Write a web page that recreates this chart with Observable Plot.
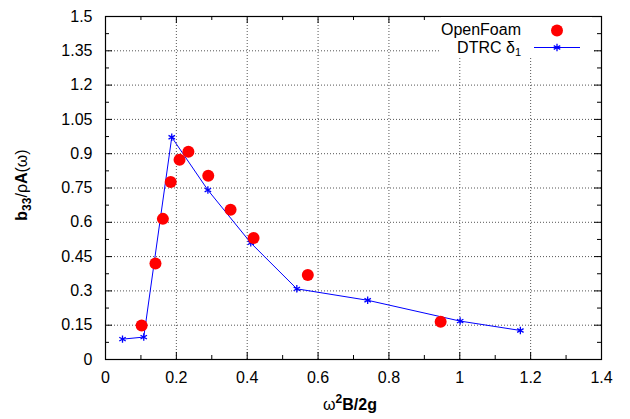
<!DOCTYPE html>
<html><head><meta charset="utf-8">
<script src="https://cdn.jsdelivr.net/npm/d3@7"></script>
<script src="https://cdn.jsdelivr.net/npm/@observablehq/plot@0.6"></script>
<style>
body{margin:0;background:#fff;font-family:"Liberation Sans",Arial,sans-serif}
#wrap{width:630px;height:419px}
</style></head><body><div id="wrap"></div>
<script>
// Data
const openfoamX = [0.102,0.141,0.162,0.184,0.209,0.234,0.290,0.353,0.418,0.571,0.946];
const openfoamY = [0.149,0.420,0.615,0.776,0.874,0.909,0.804,0.655,0.531,0.370,0.165];
const dtrcX = [0.048,0.108,0.187,0.289,0.410,0.540,0.740,1.001,1.171];
const dtrcY = [0.089,0.098,0.972,0.741,0.510,0.309,0.259,0.168,0.127];
const xTicks = [0,0.2,0.4,0.6,0.8,1,1.2,1.4];
const xTickLabels = ["0","0.2","0.4","0.6","0.8","1","1.2","1.4"];
const xMinor = [0.1,0.3,0.5,0.7,0.9,1.1,1.3];
const yTicks = [0,0.15,0.3,0.45,0.6,0.75,0.9,1.05,1.2,1.35,1.5];
const yTickLabels = ["0","0.15","0.3","0.45","0.6","0.75","0.9","1.05","1.2","1.35","1.5"];
const yMinor = [0.075,0.225,0.375,0.525,0.675,0.825,0.975,1.125,1.275,1.425];
const seriesNames = ["OpenFoam","DTRC δ","1"];

const openfoam = openfoamX.map((x,i)=>({x, y: openfoamY[i]}));
const dtrc = dtrcX.map((x,i)=>({x, y: dtrcY[i]}));
const xGrid = xTicks.slice(1,-1), yGrid = yTicks.slice(1,-1);

const W=630,H=419,mL=105,mR=29,mT=16,mB=60;
const iw=W-mL-mR, ih=H-mT-mB;
const major=7, minor=4;
const gridStyle = {stroke:"#555", strokeDasharray:"1,2", strokeWidth:1};

const plot = Plot.plot({
  width:W, height:H, marginLeft:mL, marginRight:mR, marginTop:mT, marginBottom:mB,
  x:{domain:[0,1.4]}, y:{domain:[0,1.5]},
  style:{fontFamily:"'Liberation Sans', Arial, sans-serif", fontSize:"16px", color:"black", background:"white", overflow:"visible"},
  marks:[
    Plot.ruleX(xGrid, gridStyle),
    Plot.ruleY(yGrid, gridStyle),
    Plot.line(dtrc, {x:"x", y:"y", stroke:"#0000ff", strokeWidth:1}),
    Plot.dot(dtrc, {x:"x", y:"y", symbol:"asterisk", r:3.5, stroke:"#0000ff", strokeWidth:1.3}),
    Plot.dot(openfoam, {x:"x", y:"y", r:6, fill:"#ff0000"}),
    Plot.ruleX(xTicks, {insetTop: ih-major}),
    Plot.ruleX(xTicks, {insetBottom: ih-major}),
    Plot.ruleX(xMinor, {insetTop: ih-minor}),
    Plot.ruleX(xMinor, {insetBottom: ih-minor}),
    Plot.ruleY(yTicks, {insetRight: iw-major}),
    Plot.ruleY(yTicks, {insetLeft: iw-major}),
    Plot.ruleY(yMinor, {insetRight: iw-minor}),
    Plot.ruleY(yMinor, {insetLeft: iw-minor}),
    Plot.frame({stroke:"black", strokeWidth:1.2}),
    Plot.axisX({ticks:xTicks, tickSize:0, tickPadding:12, label:null, fontSize:16, tickFormat:(d)=>xTickLabels[xTicks.indexOf(d)]}),
    Plot.axisY({ticks:yTicks, tickSize:0, tickPadding:13, label:null, fontSize:16, tickFormat:(d)=>yTickLabels[yTicks.indexOf(d)]})
  ]
});
document.getElementById("wrap").appendChild(plot);

const svg = d3.select(plot);
// Y axis title
const yl = svg.append("text").attr("transform","translate(27,185) rotate(-90)")
  .attr("text-anchor","middle").attr("font-size",16).attr("fill","black");
yl.append("tspan").attr("font-weight","bold").text("b");
yl.append("tspan").attr("font-weight","bold").attr("font-size",12).attr("dy",4).text("33");
yl.append("tspan").attr("dy",-4).text("/ρ");
yl.append("tspan").attr("font-weight","bold").text("A");
yl.append("tspan").text("(ω)");
// X axis title
const xl = svg.append("text").attr("x",350).attr("y",410)
  .attr("text-anchor","middle").attr("font-size",16).attr("fill","black");
xl.append("tspan").text("ω");
xl.append("tspan").attr("font-weight","bold").attr("font-size",12).attr("dy",-7).text("2");
xl.append("tspan").attr("font-weight","bold").attr("dy",7).text("B/2g");
// Legend
const lg = svg.append("g");
lg.append("rect").attr("x",441).attr("y",17).attr("width",151).attr("height",40).attr("fill","white");
lg.append("text").attr("x",521).attr("y",35).attr("text-anchor","end").attr("font-size",16).attr("fill","black").text(seriesNames[0]);
lg.append("circle").attr("cx",557).attr("cy",30.5).attr("r",6).attr("fill","#ff0000");
const t2 = lg.append("text").attr("x",521).attr("y",53).attr("text-anchor","end").attr("font-size",16).attr("fill","black");
t2.append("tspan").text(seriesNames[1]);
t2.append("tspan").attr("font-size",11).attr("dy",3).text(seriesNames[2]);
lg.append("line").attr("x1",534).attr("x2",580).attr("y1",47.5).attr("y2",47.5).attr("stroke","#0000ff").attr("stroke-width",1);
lg.append("path").attr("transform","translate(557,47.5)").attr("d",d3.symbol(d3.symbolAsterisk, 40)()).attr("stroke","#0000ff").attr("stroke-width",1.3).attr("fill","none");
</script>
</body></html>
